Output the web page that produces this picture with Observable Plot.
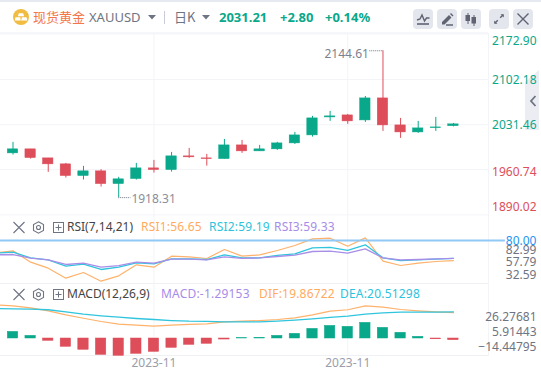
<!DOCTYPE html>
<html><head><meta charset="utf-8">
<script src="https://cdn.jsdelivr.net/npm/d3@7"></script>
<script src="https://cdn.jsdelivr.net/npm/@observablehq/plot@0.6"></script>
<style>
html,body{margin:0;padding:0;background:#fff}
#wrap{position:relative;width:541px;height:376px;overflow:hidden;background:#fff;font-family:"Noto Sans","Noto Sans CJK SC",sans-serif}
.t{position:absolute;white-space:nowrap;line-height:16px;font-size:12px}
.b{position:absolute;top:9px;width:20px;height:20px;border-radius:4px;background:#e4e6ee}
.b svg,.ic{position:absolute}
#tab{position:absolute;left:525px;top:70px;width:14px;height:60px;background:#eceDf3;clip-path:polygon(0 12px,100% 0,100% 100%,0 100%)}
</style></head><body>
<div id="wrap">
  <div style="position:absolute;left:0;top:0;width:541px;height:2px;background:#e6e9f0"></div>
  <div style="position:absolute;left:0;top:32px;width:488px;height:1.5px;background:#f6f7fa"></div>
  <div id="tab"></div>
  <svg class="ic" style="left:529px;top:94px;z-index:3" width="8" height="14" fill="none" stroke="#6f7482" stroke-width="1.800"><path d="M6.500 2L2 7l4.500 5"/></svg>
  <div id="panes"></div>
  <svg class="ic" style="left:13px;top:9px" width="16" height="16"><circle cx="8" cy="8" r="8" fill="#f0bd42"/><path d="M5.800 4.200h4.400l.9 3H4.900zM2.400 8.200h4.800l.6 3.200H1.800zM8.800 8.200h4.800l.6 3.200H8.200z" fill="#fff"/></svg>
  <div class="t" style="left:33px;top:9px;font-size:13px;color:#f4764a;font-family:'Noto Sans CJK SC'">现货黄金</div>
  <div class="t" style="left:89px;top:9px;font-size:13px;color:#6f7482">XAUUSD</div>
  <svg class="ic" style="left:148px;top:15px" width="8" height="5"><path d="M0 0h8L4 4.500z" fill="#6f7482"/></svg>
  <div style="position:absolute;left:164px;top:11px;width:1px;height:13px;background:#c9ccd6"></div>
  <div class="t" style="left:174px;top:9px;font-size:13px;color:#6f7482;font-family:'Noto Sans CJK SC'">日K</div>
  <svg class="ic" style="left:202px;top:15px" width="8" height="5"><path d="M0 0h8L4 4.500z" fill="#6f7482"/></svg>
  <div class="t" style="left:219px;top:9px;font-size:13px;font-weight:700;color:#0aa88b">2031.21</div>
  <div class="t" style="left:280px;top:9px;font-size:13px;font-weight:700;color:#0aa88b">+2.80</div>
  <div class="t" style="left:325px;top:9px;font-size:13px;font-weight:700;color:#0aa88b">+0.14%</div>
  <div class="b" style="left:413px"><svg width="20" height="20" fill="none" stroke="#5f6372" stroke-width="1.400"><path d="M4 11l3-1 2-4 2.500 6 2-3h3"/><path d="M4 15h12" stroke-width="1.600"/></svg></div>
  <div class="b" style="left:437px"><svg width="20" height="20"><path d="M5 13l7-7 2.500 2.500-7 7H5zM13 5l1-1 2.500 2.500-1 1z" fill="#5f6372"/><path d="M9 16h7" stroke="#5f6372" stroke-width="1.500"/></svg></div>
  <div class="b" style="left:461px"><svg width="20" height="20" fill="#5f6372" stroke="#5f6372"><path d="M7 4v11M13 6v11" stroke-width="1"/><rect x="4.500" y="6" width="4.500" height="6" stroke="none"/><rect x="10.500" y="8" width="4.500" height="6.500" stroke="none"/></svg></div>
  <div class="b" style="left:489px"><svg width="20" height="20" fill="none" stroke="#5f6372" stroke-width="1.400"><path d="M6 14l2.800-2.800M11.200 8.800L14 6"/><path d="M5.200 11.500v3.300h3.300M11.500 5.200h3.300v3.300" fill="#5f6372" stroke="none"/></svg></div>
  <div class="b" style="left:513px"><svg width="20" height="20" fill="none" stroke="#5f6372" stroke-width="1.400"><path d="M4.500 4.500l11 11M15.500 4.500l-11 11"/></svg></div>

  <svg class="ic" style="left:12px;top:221px;z-index:3" width="14" height="13" fill="none" stroke="#6f7482" stroke-width="1.100"><path d="M1.500 1l11 11M12.500 1l-11 11"/></svg>
  <svg class="ic" style="left:32px;top:221px;z-index:3" width="13" height="13" fill="none" stroke="#6f7482" stroke-width="1.100"><path d="M6.500.8l5 2.800v5.800l-5 2.800-5-2.800V3.600z"/><circle cx="6.500" cy="6.500" r="2"/></svg>
  <svg class="ic" style="left:52px;top:221px;z-index:3" width="13" height="13" fill="none" stroke="#6f7482" stroke-width="1"><rect x="1.500" y="1.500" width="10" height="10"/><path d="M3.500 6.500h6M6.500 3.500v6"/></svg>
  <div class="t" style="left:67px;top:219px;color:#444;z-index:3">RSI(7,14,21)</div>
  <div class="t" style="left:141px;top:219px;color:#ffab5e;z-index:3;letter-spacing:.2px">RSI1:56.65</div>
  <div class="t" style="left:209px;top:219px;color:#2cc3dc;z-index:3;letter-spacing:.2px">RSI2:59.19</div>
  <div class="t" style="left:274px;top:219px;color:#a78ce8;z-index:3;letter-spacing:.2px">RSI3:59.33</div>

  <svg class="ic" style="left:12px;top:288px;z-index:3" width="14" height="13" fill="none" stroke="#6f7482" stroke-width="1.100"><path d="M1.500 1l11 11M12.500 1l-11 11"/></svg>
  <svg class="ic" style="left:32px;top:288px;z-index:3" width="13" height="13" fill="none" stroke="#6f7482" stroke-width="1.100"><path d="M6.500.8l5 2.800v5.800l-5 2.800-5-2.800V3.600z"/><circle cx="6.500" cy="6.500" r="2"/></svg>
  <svg class="ic" style="left:52px;top:288px;z-index:3" width="13" height="13" fill="none" stroke="#6f7482" stroke-width="1"><rect x="1.500" y="1.500" width="10" height="10"/><path d="M3.500 6.500h6M6.500 3.500v6"/></svg>
  <div class="t" style="left:67px;top:286px;color:#444;z-index:3">MACD(12,26,9)</div>
  <div class="t" style="left:161px;top:286px;color:#a78ce8;z-index:3;letter-spacing:.2px">MACD:-1.29153</div>
  <div class="t" style="left:259px;top:286px;color:#ffab5e;z-index:3;letter-spacing:.2px">DIF:19.86722</div>
  <div class="t" style="left:340px;top:286px;color:#2cc3dc;z-index:3;letter-spacing:.2px">DEA:20.51298</div>
</div>
<script>
// Daily candles, one entry per session
const opens  = [1986.5,1992.7,1978.8,1969.6,1951.6,1958.8,1939.2,1947.0,1963.4,1960.8,1981.9,1978.8,1977.7,1998.8,1989.6,1992.7,2001.9,2014.2,2041.9,2045.0,2037.3,2071.2,2029.6,2018.8,2025.4,2028.41];
const closes = [1992.7,1979.3,1969.6,1951.6,1958.8,1939.2,1946.5,1963.4,1960.8,1981.9,1980.4,1977.7,1998.8,1989.6,1992.7,2001.9,2014.2,2040.4,2043.5,2035.8,2071.2,2029.6,2018.8,2025.0,2026.5,2031.21];
const highs  = [2003.5,1992.7,1978.8,1971.1,1966.5,1961.4,1949.6,1971.1,1975.7,1988.0,1994.2,1985.0,2008.0,2006.5,1998.8,2003.5,2018.8,2043.5,2051.2,2046.5,2074.2,2144.61,2040.4,2035.8,2041.9,2032.7];
const lows   = [1983.9,1977.7,1957.3,1948.5,1945.4,1934.6,1918.31,1945.4,1956.2,1957.7,1978.8,1966.9,1977.7,1986.5,1989.6,1991.1,2000.3,2011.6,2035.8,2031.2,2034.2,2020.4,2009.6,2017.3,2020.4,2027.3];
// Indicator series: the first value is the session just left of the visible window
const rsi1 = [65.7,68.0,54.8,47.8,36.2,42.8,32.7,38.9,51.7,49.0,61.8,61.0,59.1,69.5,61.8,63.3,68.4,74.2,81.9,82.7,73.4,83.1,56.0,50.9,53.6,55.6,56.65];
const rsi2 = [65.3,66.4,59.8,57.5,50.2,52.5,46.3,49.0,54.0,52.9,58.7,58.7,57.9,63.3,59.8,59.8,62.6,64.5,71.5,71.9,68.4,75.0,59.8,56.7,57.5,58.3,59.19];
const rsi3 = [63.3,63.7,59.5,57.5,52.1,53.6,49.0,50.9,54.8,53.6,58.3,58.3,57.5,61.0,59.1,59.8,61.4,62.9,67.2,67.6,65.3,70.3,59.8,57.5,57.9,58.7,59.33];
const dif  = [25.9,25.1,23.6,21.3,18.2,15.6,13.1,11.0,10.3,9.5,10.3,10.8,11.3,12.8,13.3,13.8,14.6,15.9,18.2,21.0,22.1,25.1,24.1,22.3,21.3,20.5,19.87];
const dea  = [23.1,22.8,22.6,22.1,20.5,18.7,17.4,16.4,15.4,14.6,13.8,13.3,13.1,12.8,12.8,12.8,13.3,14.1,15.1,16.2,17.2,18.7,19.7,20.3,20.3,20.3,20.51];
const macdHist = [5.1,2.05,-1.8,-6.4,-8.7,-12.6,-13.3,-11.8,-10.3,-7.2,-4.9,-4.1,-0.8,0.2,0.5,2.05,3.6,7.4,9.7,9.0,12.05,8.2,4.4,1.3,-0.6,-1.29153];
// Tick labels
const priceTicks = [2172.90,2102.18,2031.46,1960.74,1890.02];
const priceGrid  = [2170.5,2100.4,2030.7,1961.4,1891.8];
const rsiTicks   = [82.99,57.79,32.59];
const rsiLevel   = 80;
const macdTicks  = [26.27681,5.91443,-14.44795];
const monthTicks = [8,19];
const monthLabel = "2023-11";

const GREEN="#0aa88b", RED="#dd4d5a", GRAY="#6f7482", GRID="#f3f4f8";
const ORANGE="#ffb26b", CYAN="#30c5dd", PURPLE="#a98ee8";
const xScale={domain:[-0.71,26.99],range:[0,488],axis:null};
const paneStyle=top=>({position:"absolute",left:"0",top:top+"px",background:"transparent",fontFamily:"'Noto Sans',sans-serif",overflow:"visible"});
const base={width:541,marginLeft:0,marginRight:53,marginTop:0,marginBottom:0,x:xScale};
const yLab=(v,fill,dy,fmt)=>Plot.axisY([v],{anchor:"right",tickSize:0,tickPadding:48,textAnchor:"end",fill,dy,tickFormat:fmt,fontSize:12,label:null});
const f2=d3.format(".2f"), f5=d3.format(".5f");
const bodyHalf=0.295;
const candles=opens.map((o,i)=>({i,o,c:closes[i],h:highs[i],l:lows[i],dir:closes[i]>=o?"up":"down"}));
const dirColor={domain:["up","down"],range:[GREEN,RED]};
const series=a=>a.map((v,k)=>({i:k-1,v}));

const priceDy=[9,2,1,2,-9], priceCol=[GREEN,GREEN,GREEN,RED,RED];
const hiIdx=highs.indexOf(d3.max(highs)), loIdx=lows.indexOf(d3.min(lows));
const pane1=Plot.plot({...base,height:183,style:paneStyle(33),
  y:{domain:[1890.02,2172.9],range:[182.5,-1.1],axis:null},color:dirColor,
  marks:[
    Plot.ruleY(priceGrid,{stroke:GRID,x1:-0.71,x2:26.99}),
    Plot.ruleX(monthTicks,{stroke:GRID}),
    Plot.frame({anchor:"right",stroke:GRID}),
    Plot.ruleX(candles,{x:"i",y1:"l",y2:"h",stroke:"dir",strokeWidth:1}),
    Plot.rect(candles,{x1:d=>d.i-bodyHalf,x2:d=>d.i+bodyHalf,y1:"o",y2:"c",fill:"dir",stroke:"dir",strokeWidth:0.5}),
    Plot.ruleY([highs[hiIdx]],{x1:hiIdx-0.75,x2:hiIdx,stroke:GRAY,strokeDasharray:"1 1"}),
    Plot.ruleY([lows[loIdx]],{x1:loIdx,x2:loIdx+0.7,stroke:GRAY,strokeDasharray:"1 1"}),
    Plot.text([highs[hiIdx]],{x:hiIdx-0.8,y:d=>d,dy:3,textAnchor:"end",text:f2,fill:"#7d818e",fontSize:12}),
    Plot.text([lows[loIdx]],{x:loIdx+0.72,y:d=>d,dy:2,textAnchor:"start",text:f2,fill:"#8a8e9b",fontSize:12}),
    ...priceTicks.map((v,k)=>yLab(v,priceCol[k],priceDy[k],f2))
  ]});

const rsiDy=[12.6,2.6,-5.8];
const pane2=Plot.plot({...base,height:68,style:paneStyle(215),
  y:{domain:[30,85],range:[68,20.7],axis:null},
  marks:[
    Plot.ruleX(monthTicks,{stroke:GRID}),
    Plot.frame({anchor:"bottom",stroke:"#eef0f4"}),
    Plot.frame({anchor:"right",stroke:GRID}),
    Plot.line(series(rsi1),{x:"i",y:"v",stroke:ORANGE,strokeWidth:1.2,clip:true}),
    Plot.line(series(rsi2),{x:"i",y:"v",stroke:CYAN,strokeWidth:1.3,clip:true}),
    Plot.line(series(rsi3),{x:"i",y:"v",stroke:PURPLE,strokeWidth:1.3,clip:true}),
    Plot.ruleY([rsiLevel],{x1:-0.71,x2:27.95,stroke:"#90c8f6",strokeWidth:2}),
    ...rsiTicks.map((v,k)=>yLab(v,GRAY,rsiDy[k],f2)),
    yLab(rsiLevel,"#2196f3",0.5,f2)
  ]});

const macdDy=[12.9,1.4,-10.1];
const pane3=Plot.plot({...base,height:93,marginBottom:21,style:paneStyle(283),
  y:{domain:[-20,30],range:[81,16],axis:null},color:dirColor,
  marks:[
    Plot.ruleX(monthTicks,{stroke:GRID}),
    Plot.frame({anchor:"bottom",stroke:"#eef0f4"}),
    Plot.frame({anchor:"right",stroke:GRID}),
    Plot.rect(macdHist.map((v,i)=>({i,v})),{x1:d=>d.i-bodyHalf,x2:d=>d.i+bodyHalf,y1:0,y2:"v",fill:d=>d.v>=0?"up":"down",stroke:d=>d.v>=0?"up":"down",strokeWidth:0.5}),
    Plot.line(series(dif),{x:"i",y:"v",stroke:ORANGE,strokeWidth:1.2,clip:true}),
    Plot.line(series(dea),{x:"i",y:"v",stroke:CYAN,strokeWidth:1.3,clip:true}),
    Plot.axisX(monthTicks,{tickSize:0,tickPadding:3,fill:"#9a9eac",fontSize:12,tickFormat:()=>monthLabel,label:null}),
    ...macdTicks.map((v,k)=>yLab(v,GRAY,macdDy[k],f5))
  ]});
const holder=document.getElementById("panes");
[pane1,pane2,pane3].forEach(p=>holder.appendChild(p));
</script>
</body></html>
